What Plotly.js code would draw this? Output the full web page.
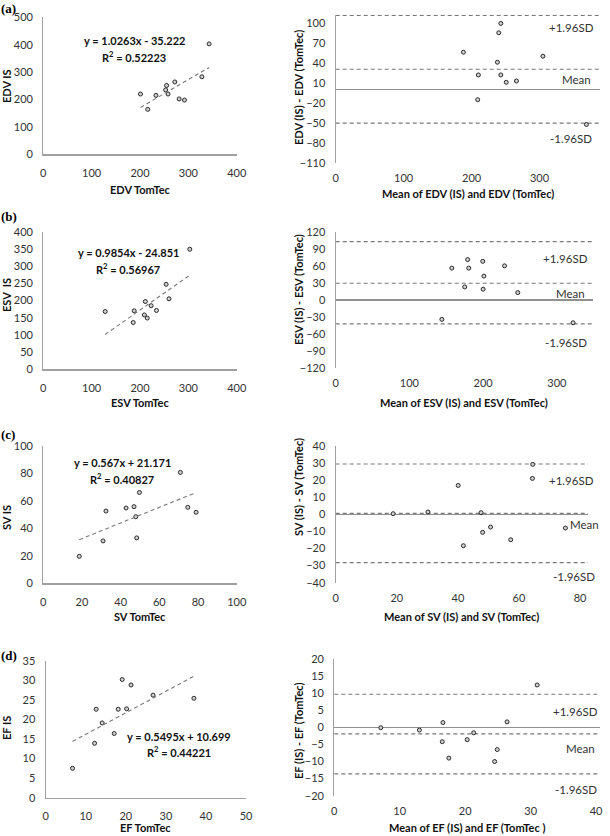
<!DOCTYPE html>
<html><head><meta charset="utf-8">
<script src="https://cdn.plot.ly/plotly-3.0.1.min.js"></script>
<style>html,body{margin:0;padding:0;background:#fff}#chart{width:610px;height:836px}</style>
</head><body><div id="chart"></div>
<script>
// ---------- DATA ----------
// (a) EDV
const edvTomTec = [201, 216, 233, 253, 255, 258, 272, 281, 292, 328, 343];
const edvIS     = [220, 164, 215, 235, 251, 220, 264, 202, 198, 283, 403];
const edvBAmean = [188, 209, 210, 238, 240, 243, 243, 251, 266, 305, 369];
const edvBAdiff = [56, -15, 22, 41, 85, 22, 99, 11, 13, 50, -52];
const edvFit    = [1.0263, -35.222];
const edvR2     = 0.52223;
const edvLimits = [111, 30.5, -50];   // +1.96SD, mean, -1.96SD

// (b) ESV
const esvTomTec = [128, 186, 188, 209, 211, 215, 223, 234, 254, 260, 303];
const esvIS     = [168, 136, 170, 158, 197, 149, 185, 171, 247, 205, 349];
const esvBAmean = [144, 157.5, 175, 179, 180.5, 199.5, 200, 201, 229, 247, 322];
const esvBAdiff = [-34, 56, 23, 71, 56, 68, 19, 42, 60, 13, -40];
const esvFit    = [0.9854, -24.851];
const esvR2     = 0.56967;
const esvLimits = [102.5, 29.5, -42];

// (c) SV
const svTomTec = [18.6, 30.9, 32.4, 42.8, 46.9, 47.8, 48.3, 49.7, 70.9, 74.7, 79];
const svIS     = [19.6, 30.8, 52.5, 54.7, 55.7, 48.4, 33, 66, 80.6, 55.2, 51.6];
const svBAmean = [18.8, 30.2, 40.1, 41.8, 47.6, 48.1, 50.7, 57.3, 64.4, 64.5, 75.2];
const svBAdiff = [0.3, 1.3, 16.8, -18.4, 0.9, -10.6, -7.5, -14.9, 20.9, 29.1, -8.1];
const svFit    = [0.567, 21.171];
const svR2     = 0.40827;
const svLimits = [29.3, 0.5, -28.3];

// (d) EF
const efTomTec = [6.7, 12.2, 12.6, 14.1, 17.1, 18.1, 19.1, 20.2, 21.3, 26.8, 37];
const efIS     = [7.5, 13.9, 22.6, 19.1, 16.4, 22.6, 30.2, 22.7, 28.8, 26.2, 25.4];
const efBAmean = [7.1, 13.0, 16.5, 16.6, 17.5, 20.3, 21.3, 24.5, 24.9, 26.4, 31];
const efBAdiff = [-0.1, -0.8, -4.2, 1.4, -9, -3.6, -1.6, -10, -6.5, 1.6, 12.4];
const efFit    = [0.5495, 10.699];
const efR2     = 0.44221;
const efLimits = [9.7, -1.9, -13.6];

const panelLetters = ['(a)', '(b)', '(c)', '(d)'];
const limitLabels  = ['+1.96SD', 'Mean', '-1.96SD'];

// ---------- LAYOUT HELPERS ----------
const W = 610, H = 836;
const fx = p => p / W;
const fy = p => 1 - p / H;
const FAM = 'Lato, "Open Sans", sans-serif';
const TICKFONT = {family: FAM, size: 11, color: '#333'};
const TITLEFONT = {family: FAM, size: 11, color: '#111', weight: 'bold'};
const AXCOL = '#a0a0a0';
const DASH = '4px,3px';

const groups = [
  {tom: edvTomTec, is: edvIS, bm: edvBAmean, bd: edvBAdiff, fit: edvFit, r2: edvR2, lim: edvLimits,
   xl: 'EDV TomTec', yl: 'EDV IS', xr: 'Mean of EDV (IS) and EDV (TomTec)', yr: 'EDV (IS) - EDV (TomTec)',
   L: {x: [43.3, 236.7], y: [17.3, 154.3], xr: [0, 400], xd: 100, yr: [0, 500], yd: 100},
   R: {x: [335.7, 600], y: [14.7, 163.3], xr: [0, 389], xd: 100, yr: [-110, 112], yd: 30, y0: -110},
   eq: [134, 41, 57], letterY: 0, ylY: 86, yrY: 88, xtY: [189, 193],
   labs: [[571, 28], [576, 79], [571, 138]]},
  {tom: esvTomTec, is: esvIS, bm: esvBAmean, bd: esvBAdiff, fit: esvFit, r2: esvR2, lim: esvLimits,
   xl: 'ESV TomTec', yl: 'ESV  IS', xr: 'Mean of ESV (IS) and ESV (TomTec)', yr: 'ESV (IS) - ESV (TomTec)',
   L: {x: [43.3, 236.7], y: [231.7, 369.3], xr: [0, 400], xd: 100, yr: [0, 400], yd: 50},
   R: {x: [335.7, 593], y: [231.7, 368.3], xr: [0, 349], xd: 100, yr: [-120, 120], yd: 30, y0: -120},
   eq: [128, 253, 268], letterY: 208, ylY: 295, yrY: 290, xtY: [403, 403],
   labs: [[565, 258], [570, 293], [566, 342]]},
  {tom: svTomTec, is: svIS, bm: svBAmean, bd: svBAdiff, fit: svFit, r2: svR2, lim: svLimits,
   xl: 'SV TomTec', yl: 'SV IS', xr: 'Mean of SV (IS) and SV (TomTec)', yr: 'SV (IS) - SV (TomTec)',
   L: {x: [43.3, 236.7], y: [445.7, 583.3], xr: [0, 100], xd: 20, yr: [0, 100], yd: 20},
   R: {x: [335.7, 588], y: [445.7, 582.7], xr: [0, 82.6], xd: 20, yr: [-40, 40], yd: 10, y0: -40},
   eq: [122, 462, 478], letterY: 426, ylY: 518, yrY: 487, xtY: [616, 616],
   labs: [[571, 480], [584, 524], [574, 576]]},
  {tom: efTomTec, is: efIS, bm: efBAmean, bd: efBAdiff, fit: efFit, r2: efR2, lim: efLimits,
   xl: 'EF TomTec', yl: 'EF IS', xr: 'Mean of EF (IS) and EF (TomTec )', yr: 'EF (IS) - EF (TomTec)',
   L: {x: [45.7, 246], y: [660.7, 797.7], xr: [0, 50], xd: 10, yr: [0, 35], yd: 5},
   R: {x: [334.3, 600], y: [659, 795.7], xr: [0, 40.6], xd: 10, yr: [-20, 20], yd: 5, y0: -20},
   eq: [179, 736, 751], letterY: 647, ylY: 728, yrY: 731, xtY: [827, 827],
   labs: [[575, 711], [580, 748], [576, 789]]}
];

const traces = [];
const layout = {
  width: W, height: H, margin: {l: 0, r: 0, t: 0, b: 0},
  paper_bgcolor: '#fff', plot_bgcolor: '#fff', showlegend: false,
  annotations: [], shapes: []
};
const marker = {size: 4, color: '#cfcfcf', line: {color: '#2a2a2a', width: 1}};

groups.forEach((g, i) => {
  const nL = 2 * i + 1, nR = 2 * i + 2;
  const sfx = n => (n === 1 ? '' : String(n));
  const xa = 'xaxis' + sfx(nL), ya = 'yaxis' + sfx(nL);
  const xb = 'xaxis' + sfx(nR), yb = 'yaxis' + sfx(nR);
  const xL = 'x' + sfx(nL), yL = 'y' + sfx(nL), xR = 'x' + sfx(nR), yR = 'y' + sfx(nR);

  // scatter + regression
  traces.push({type: 'scatter', mode: 'markers', x: g.tom, y: g.is, xaxis: xL, yaxis: yL, marker});
  const xmin = Math.min(...g.tom), xmax = Math.max(...g.tom);
  traces.push({type: 'scatter', mode: 'lines', x: [xmin, xmax],
    y: [g.fit[0] * xmin + g.fit[1], g.fit[0] * xmax + g.fit[1]],
    xaxis: xL, yaxis: yL, line: {color: '#7a7a7a', width: 1.1, dash: DASH}});

  // Bland-Altman
  traces.push({type: 'scatter', mode: 'markers', x: g.bm, y: g.bd, xaxis: xR, yaxis: yR, marker});
  g.lim.forEach(v => {
    layout.shapes.push({type: 'line', xref: xR + ' domain', yref: yR, x0: 0, x1: 1, y0: v, y1: v,
      line: {color: '#7a7a7a', width: 1.1, dash: DASH}, layer: 'below'});
  });

  layout[xa] = {domain: [fx(g.L.x[0]), fx(g.L.x[1])], anchor: yL, range: g.L.xr, dtick: g.L.xd, tick0: 0,
    showline: true, linecolor: AXCOL, linewidth: 1.2, showgrid: false, zeroline: false, ticks: '',
    tickfont: TICKFONT, ticklabelstandoff: 8};
  layout[ya] = {domain: [fy(g.L.y[1]), fy(g.L.y[0])], anchor: xL, range: g.L.yr, dtick: g.L.yd, tick0: 0,
    showline: true, linecolor: AXCOL, linewidth: 1.2, showgrid: false, zeroline: false, ticks: '',
    tickfont: TICKFONT, ticklabelstandoff: 7};
  layout[xb] = {domain: [fx(g.R.x[0]), fx(g.R.x[1])], anchor: yR, range: g.R.xr, dtick: g.R.xd, tick0: 0,
    showline: false, showgrid: false, zeroline: false, ticks: '',
    tickfont: TICKFONT, ticklabelstandoff: 7};
  layout[yb] = {domain: [fy(g.R.y[1]), fy(g.R.y[0])], anchor: xR, range: g.R.yr, dtick: g.R.yd, tick0: g.R.y0,
    showline: true, linecolor: AXCOL, linewidth: 1.2, showgrid: false,
    zeroline: true, zerolinecolor: '#909090', zerolinewidth: 1.2, ticks: '',
    tickfont: TICKFONT, ticklabelstandoff: 7};

  // axis titles
  layout.annotations.push({xref: 'paper', yref: 'paper', x: fx((g.L.x[0] + g.L.x[1]) / 2), y: fy(g.xtY[0]),
    text: g.xl, showarrow: false, font: TITLEFONT, xanchor: 'center', yanchor: 'middle'});
  layout.annotations.push({xref: 'paper', yref: 'paper', x: fx((g.R.x[0] + g.R.x[1]) / 2), y: fy(g.xtY[1]),
    text: g.xr, showarrow: false, font: TITLEFONT, xanchor: 'center', yanchor: 'middle'});
  layout.annotations.push({xref: 'paper', yref: 'paper', x: fx(6), y: fy(g.ylY), text: g.yl, textangle: -90,
    showarrow: false, font: TITLEFONT, xanchor: 'center', yanchor: 'middle'});
  layout.annotations.push({xref: 'paper', yref: 'paper', x: fx(298), y: fy(g.yrY), text: g.yr, textangle: -90,
    showarrow: false, font: TITLEFONT, xanchor: 'center', yanchor: 'middle'});
  // panel letter
  layout.annotations.push({xref: 'paper', yref: 'paper', x: fx(0), y: fy(g.letterY), text: '<b>' + panelLetters[i] + '</b>',
    showarrow: false, xanchor: 'left', yanchor: 'top', borderpad: 0,
    font: {family: '"Liberation Serif", "DejaVu Serif", serif', size: 13, color: '#000'}});
  // equation
  const sign = g.fit[1] < 0 ? ' - ' : ' + ';
  layout.annotations.push({xref: 'paper', yref: 'paper', x: fx(g.eq[0]), y: fy(g.eq[1]),
    text: 'y = ' + g.fit[0] + 'x' + sign + Math.abs(g.fit[1]), showarrow: false, font: TITLEFONT,
    xanchor: 'center', yanchor: 'middle'});
  layout.annotations.push({xref: 'paper', yref: 'paper', x: fx(g.eq[0]), y: fy(g.eq[2]),
    text: 'R<sup>2</sup> = ' + g.r2, showarrow: false, font: TITLEFONT, xanchor: 'center', yanchor: 'middle'});
  // limit labels
  g.labs.forEach((p, k) => {
    layout.annotations.push({xref: 'paper', yref: 'paper', x: fx(p[0]), y: fy(p[1]), text: limitLabels[k],
      showarrow: false, font: {family: FAM, size: 11.5, color: '#333'},
      xanchor: 'center', yanchor: 'middle'});
  });
});

Plotly.newPlot('chart', traces, layout, {staticPlot: true, displayModeBar: false});
</script>
</body></html>
